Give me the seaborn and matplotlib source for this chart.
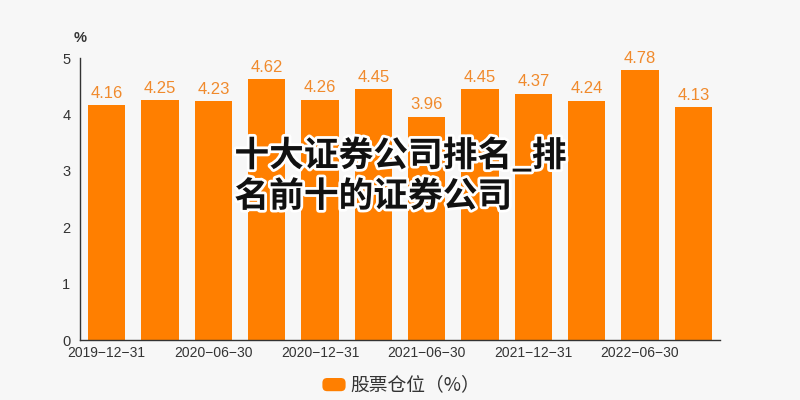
import matplotlib
matplotlib.use("Agg")
import matplotlib.pyplot as plt
import matplotlib.patheffects as pe
from matplotlib.patches import FancyBboxPatch
import seaborn as sns
import pandas as pd
import numpy as np

dates = ["2019-12-31", "2020-03-31", "2020-06-30", "2020-09-30", "2020-12-31", "2021-03-31",
         "2021-06-30", "2021-09-30", "2021-12-31", "2022-03-31", "2022-06-30", "2022-09-30"]
values = [4.16, 4.25, 4.23, 4.62, 4.26, 4.45, 3.96, 4.45, 4.37, 4.24, 4.78, 4.13]
series_name = "股票仓位（%）"
title = "十大证券公司排名_排\n名前十的证券公司"

sns.set_theme(style="white")
plt.rcParams['font.family'] = ['Noto Sans CJK SC', 'DejaVu Sans']

bg = "#f7f7f7"
bar_color = "#ff7f00"
label_color = "#f08a2c"
axis_color = "#333333"
num_font = ["Liberation Sans", "DejaVu Sans"]

fig = plt.figure(figsize=(8, 4), dpi=100, facecolor=bg)
ax = fig.add_axes([0.1, 0.15, 0.8, 0.705])
ax.set_facecolor(bg)

df = pd.DataFrame({"date": dates, "value": values})
sns.barplot(data=df, x="date", y="value", order=dates, color=bar_color,
            saturation=1, width=0.7, ax=ax)
for p in ax.patches:
    p.set_edgecolor("none")

for i, v in enumerate(values):
    ax.text(i, v + 0.08, f"{v:.2f}", ha="center", va="bottom",
            color=label_color, fontsize=12, family=num_font)

ax.set_xlim(-0.5, len(dates) - 0.5)
ax.set_ylim(0, 5)
ax.set_yticks([0, 1, 2, 3, 4, 5])
ax.set_yticklabels(["0", "1", "2", "3", "4", "5"], family=num_font)
ax.set_xticks(range(0, len(dates), 2))
ax.set_xticklabels([d.replace("-", "\u2212") for d in dates[::2]], family=num_font)
ax.set_xticks(np.arange(-0.5, len(dates), 2), minor=True)
ax.tick_params(axis="x", which="major", length=0, pad=4, labelsize=10, labelcolor=axis_color)
ax.tick_params(axis="x", which="minor", length=5, width=1, color=axis_color, direction="out")
ax.tick_params(axis="y", which="major", length=4, width=1, color=axis_color, direction="out",
               labelsize=10.5, labelcolor=axis_color, pad=3)
ax.set_xlabel("")
ax.set_ylabel("")
for s in ["top", "right"]:
    ax.spines[s].set_visible(False)
for s in ["left", "bottom"]:
    ax.spines[s].set_color(axis_color)
    ax.spines[s].set_linewidth(1)

fig.text(0.1, 0.905, "%", ha="center", va="center", fontsize=10.5, color=axis_color,
         family=num_font, fontweight="bold")

# legend
fig.patches.append(FancyBboxPatch((0.403, 0.022), 0.029, 0.033, boxstyle="round,pad=0,rounding_size=0.006",
                                  transform=fig.transFigure, facecolor=bar_color, edgecolor="none",
                                  mutation_aspect=2))
fig.text(0.438, 0.038, series_name, ha="left", va="center", fontsize=13.5, color=axis_color)

# overlay title
fig.text(0.293, 0.56, title, ha="left", va="center", fontsize=25, fontweight="black",
         color="#111111", linespacing=1.2,
         path_effects=[pe.withStroke(linewidth=4, foreground="white")])

fig.savefig("out.png", dpi=100, facecolor=bg)
